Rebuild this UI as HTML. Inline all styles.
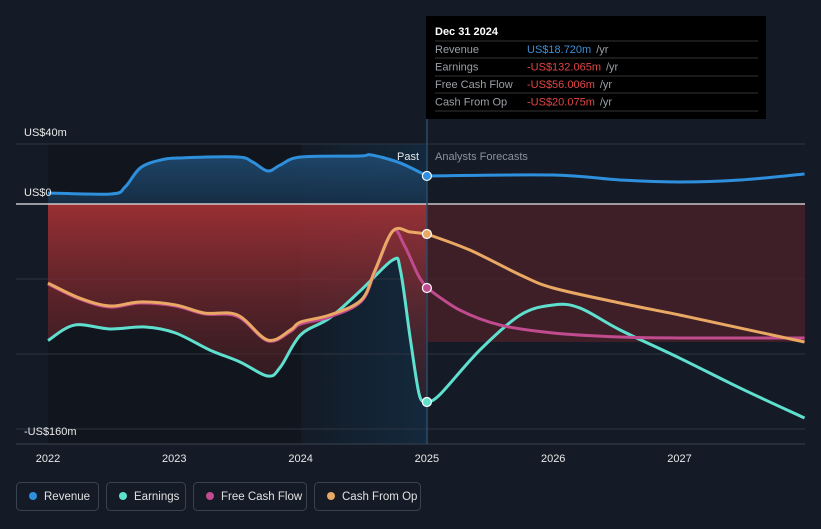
<!DOCTYPE html>
<html><head><meta charset="utf-8"><style>
body{margin:0;background:#151b26;width:821px;height:524px;overflow:hidden;font-family:"Liberation Sans",sans-serif}
svg text{font-family:"Liberation Sans",sans-serif}
</style></head><body>
<svg id="c" width="821" height="524"></svg>
<script>
const revX=[2022,2022.5,2022.61,2022.73,2022.89,2023.05,2023.5,2023.62,2023.74,2023.84,2024,2024.47,2024.56,2024.79,2025];
const revV=[7.3,6.7,11.3,24,29.3,30.7,31.3,28,22,26,31.3,32,32.7,27.3,18.7];
const revFX=[2025,2026,2026.53,2027,2027.48,2027.99];
const revFV=[18.7,19.3,16,14.7,16,20];
const earnX=[2022,2022.21,2022.49,2022.77,2023.01,2023.28,2023.52,2023.74,2023.84,2024,2024.23,2024.48,2024.73,2024.79,2024.87,2024.94,2025];
const earnV=[-91,-80.7,-83.3,-82,-86,-97.3,-105.3,-114.7,-108.7,-87.3,-76,-57.3,-37.3,-44,-90.7,-127.3,-132];
const earnFX=[2025,2025.1,2025.42,2025.74,2026,2026.21,2026.53,2027,2027.48,2027.99];
const earnFV=[-132,-127.3,-97.3,-74,-67.3,-69.3,-84,-102.7,-122.7,-142.7];
const cfoX=[2022,2022.25,2022.49,2022.73,2023.01,2023.24,2023.5,2023.74,2023.92,2024,2024.23,2024.48,2024.59,2024.73,2024.87,2025];
const cfoV=[-52.7,-62.7,-68,-65.3,-67.3,-72.7,-74,-90.7,-84,-78.7,-74,-64,-44,-18,-18.7,-20];
const cfoFX=[2025,2025.34,2025.74,2026,2026.53,2027,2027.48,2027.99];
const cfoFV=[-20,-30.7,-47.3,-56,-66,-74,-82.7,-92];
const fcfX=[2022,2022.25,2022.49,2022.73,2023.01,2023.24,2023.5,2023.74,2023.92,2024,2024.23,2024.48,2024.59,2024.73,2024.82,2024.93,2025];
const fcfV=[-53.3,-63.3,-68.7,-66,-68,-73.3,-75,-91.3,-85,-80,-75.3,-65,-45,-18,-27.3,-47.3,-56];
const fcfFX=[2025,2025.26,2025.58,2026,2026.53,2027,2027.99];
const fcfFV=[-56,-70.7,-80.7,-86,-88.7,-89.3,-89.3];
const yTicks=[40,0,-160];
const yTickLabels=["US$40m","US$0","-US$160m"];
const xTicks=[2022,2023,2024,2025,2026,2027];

const X=y=>48+(y-2022)*126.3;
const Y=v=>204-v*1.5;
const svg=document.getElementById('c');
const NS='http://www.w3.org/2000/svg';
function mk(t,a,p){const e=document.createElementNS(NS,t);for(const k in a)e.setAttribute(k,a[k]);(p||svg).appendChild(e);return e;}
function pts(xs,vs){return xs.map((x,i)=>[X(x),Y(vs[i])]);}
function smooth(p){let d='M'+p[0][0]+','+p[0][1];for(let i=0;i<p.length-1;i++){const p0=p[i-1]||p[i],p1=p[i],p2=p[i+1],p3=p[i+2]||p2;const t=6;d+=' C'+(p1[0]+(p2[0]-p0[0])/t)+','+(p1[1]+(p2[1]-p0[1])/t)+' '+(p2[0]-(p3[0]-p1[0])/t)+','+(p2[1]-(p3[1]-p1[1])/t)+' '+p2[0]+','+p2[1];}return d;}

const defs=mk('defs',{});
defs.innerHTML='<linearGradient id="rg" x1="0" y1="0" x2="0" y2="1"><stop offset="0" stop-color="#a83236" stop-opacity="1"/><stop offset="1" stop-color="#3a1c22" stop-opacity="0.6"/></linearGradient><linearGradient id="bg2" x1="0" y1="0" x2="1" y2="0"><stop offset="0" stop-color="#131b26"/><stop offset="1" stop-color="#13293d"/></linearGradient><linearGradient id="bf" x1="0" y1="0" x2="0" y2="1"><stop offset="0" stop-color="#1f4a70"/><stop offset="1" stop-color="#173049"/></linearGradient>';

let e;
e=mk('rect',{x:48,y:144,width:253,height:300,fill:'#11161e'});

e=mk('rect',{x:301,y:144,width:126,height:300,fill:'url(#bg2)'});


[144,279,354,429].forEach(y=>{e=mk('line',{x1:16,x2:805,y1:y,y2:y,stroke:'#2c3442','stroke-width':1});});
e=mk('line',{x1:16,x2:805,y1:444,y2:444,stroke:'#3a4250'});

const ep=pts(earnX,earnV);
e=mk('path',{d:smooth(ep)+' L'+X(2025)+','+Y(0)+' L'+X(2022)+','+Y(0)+'Z',fill:'url(#rg)',opacity:0.9});

e=mk('rect',{x:X(2025),y:204,width:805-X(2025),height:Y(cfoFV[cfoFV.length-1])-204,fill:'#4a2128',opacity:0.8});

const rp=pts(revX,revV);
e=mk('path',{d:smooth(rp)+' L'+X(2025)+','+Y(0)+' L'+X(2022)+','+Y(0)+'Z',fill:'url(#bf)',opacity:0.9});


e=mk('line',{x1:16,x2:805,y1:204,y2:204,stroke:'#e8e8e8','stroke-width':1.2});
e=mk('line',{x1:427,x2:427,y1:16,y2:444,stroke:'#2c4a66','stroke-width':1.5});

function line(xs,vs,col,name){const el=mk('path',{d:smooth(pts(xs,vs)),fill:'none',stroke:col,'stroke-width':3,'stroke-linejoin':'round'});}
line(earnX,earnV,'#5fe0cf','earnings-line');line(earnFX,earnFV,'#5fe0cf','earnings-forecast-line');
line(fcfX,fcfV,'#c04b8e','fcf-line');line(fcfFX,fcfFV,'#c04b8e','fcf-forecast-line');
line(cfoX,cfoV,'#e9a964','cfo-line');line(cfoFX,cfoFV,'#e9a964','cfo-forecast-line');
line(revX,revV,'#2e8fdc','revenue-line');line(revFX,revFV,'#2e8fdc','revenue-forecast-line');
[[revV,'#2e8fdc','revenue-dot'],[earnV,'#5fe0cf','earnings-dot'],[fcfV,'#c04b8e','fcf-dot'],[cfoV,'#e9a964','cfo-dot']].forEach(([v,c,n])=>{const el=mk('circle',{cx:X(2025),cy:Y(v[v.length-1]),r:4.5,fill:c,stroke:'#fff','stroke-width':1.2});});

const yOff=[ -8, -8, 6];
yTicks.forEach((t,i)=>{const el=mk('text',{x:24,y:(t==40?136:(t==0?196:435)),fill:'#e8e8e8','font-size':11});el.textContent=yTickLabels[i];});
xTicks.forEach(t=>{const el=mk('text',{x:X(t),y:462,fill:'#e8e8e8','font-size':11,'text-anchor':'middle'});el.textContent=String(t);});
e=mk('text',{x:419,y:160,fill:'#e8e8e8','font-size':11,'text-anchor':'end'});e.textContent='Past';
e=mk('text',{x:435,y:160,fill:'#8a929e','font-size':11});e.textContent='Analysts Forecasts';

const tg=mk('g',{});
mk('rect',{x:426,y:16,width:340,height:103,fill:'#000'},tg);
const tt=mk('text',{x:435,y:35,fill:'#fff','font-size':11,'font-weight':'bold'},tg);tt.textContent='Dec 31 2024';
[41,58,76,93,111].forEach(y=>mk('line',{x1:435,x2:758,y1:y,y2:y,stroke:'#333'},tg));
[['Revenue','US$18.720m','#3d8fd6'],['Earnings','-US$132.065m','#e04646'],['Free Cash Flow','-US$56.006m','#e04646'],['Cash From Op','-US$20.075m','#e04646']].forEach((r,i)=>{const y=53+i*17.5;
const a=mk('text',{x:435,y:y,fill:'#9aa0a8','font-size':11},tg);a.textContent=r[0];
const b=mk('text',{x:527,y:y,fill:r[2],'font-size':11},tg);b.textContent=r[1];
const bb=b.getComputedTextLength();const c=mk('text',{x:527+bb+5,y:y,fill:'#9aa0a8','font-size':11},tg);c.textContent='/yr';});

[['Revenue','#2e8fdc',16,82],['Earnings','#5fe0cf',106,79],['Free Cash Flow','#c04b8e',193,113],['Cash From Op','#e9a964',314,106]].forEach(l=>{const g=mk('g',{});
mk('rect',{x:l[2]+0.5,y:482.5,width:l[3],height:28,rx:4,fill:'none',stroke:'#3a4250'},g);
mk('circle',{cx:l[2]+17,cy:496,r:4,fill:l[1]},g);
const t=mk('text',{x:l[2]+28,y:500,fill:'#e0e0e0','font-size':11.5},g);t.textContent=l[0];});
</script>
</body></html>
